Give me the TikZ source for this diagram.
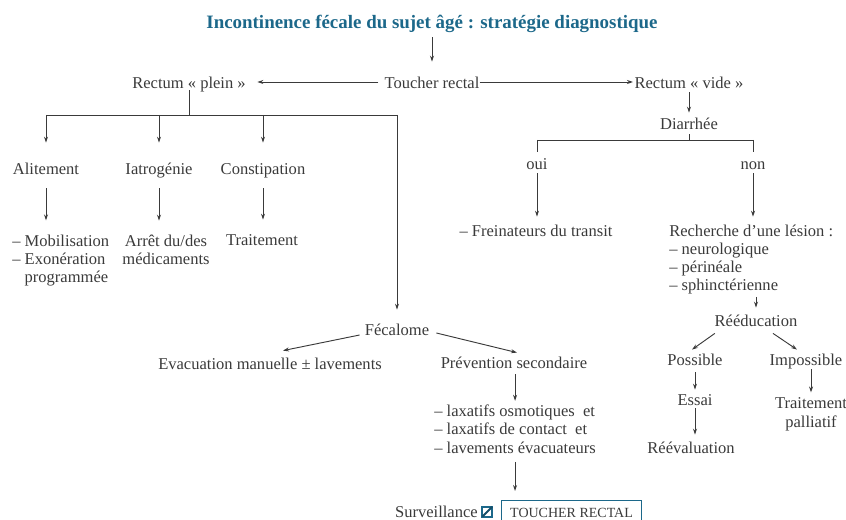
\documentclass[tikz,border=0pt]{standalone}
\usepackage{fontspec}
\setmainfont{Liberation Serif}
\usetikzlibrary{arrows.meta,calc}
\definecolor{titleblue}{RGB}{28,104,138}
\definecolor{ink}{RGB}{58,58,58}
\begin{document}
\begin{tikzpicture}[x=0.75pt,y=-0.75pt,
  font=\fontsize{12.4}{13.7}\selectfont,
  lbl/.style={inner sep=0pt, text height=10.25pt, text depth=0pt, text=ink},
  multi/.style={inner sep=0pt, text=ink, align=left},
  titlelbl/.style={inner sep=0pt, text height=11pt, text depth=1.5pt, text=titleblue,
    font=\bfseries\fontsize{14.2}{16}\selectfont},
  ln/.style={draw=ink, line width=0.7pt},
  arr/.style={ln, -{Stealth[length=4.5pt,width=3pt]}},
  chkbox/.style={draw=titleblue, line width=1pt, inner sep=0pt, minimum size=7.5pt},
  boxed/.style={draw=titleblue, line width=0.8pt, inner sep=0pt, text height=8pt, text depth=2pt,
    minimum width=105pt, minimum height=19.5pt, text=ink, font=\fontsize{10.5}{12}\selectfont}]
\useasboundingbox (0,0) rectangle (846,520);

% ---- nodes ----
\node[titlelbl] (title) at (432,22) {Incontinence fécale du sujet âgé : stratégie diagnostique};
\node[lbl] (tr) at (432,82) {Toucher rectal};
\node[lbl] (rp) at (189,82) {Rectum « plein »};
\node[lbl] (rv) at (689,82) {Rectum « vide »};

\node[lbl] (ali) at (46,168) {Alitement};
\node[lbl] (iat) at (159,168) {Iatrogénie};
\node[lbl] (con) at (263,168) {Constipation};
\node[multi, anchor=base west] (mob) at (12,283) {– Mobilisation\\– Exonération\\\phantom{– }programmée};
\node[multi, align=center, anchor=base] (med) at (166,265) {Arrêt du/des\\médicaments};
\node[lbl] (trt) at (262,239) {Traitement};

\node[lbl] (fec) at (397,329) {Fécalome};
\node[lbl] (eva) at (270,363) {Evacuation manuelle ± lavements};
\node[lbl] (prev) at (514,362) {Prévention secondaire};
\node[multi, anchor=base west] (lax) at (434,453) {– laxatifs osmotiques\ \ et\\– laxatifs de contact\ \ et\\– lavements évacuateurs};
\node[lbl, anchor=east] (surv) at (478,510.5) {Surveillance};
\node[chkbox] (chk) at (487,512) {};
\node[boxed, anchor=north west] (box) at (501,500) {TOUCHER RECTAL};

\node[lbl] (dia) at (689,123) {Diarrhée};
\node[lbl] (oui) at (537,163) {oui};
\node[lbl] (non) at (753,163) {non};
\node[lbl] (fr) at (536,230) {– Freinateurs du transit};
\node[multi, anchor=base west] (rl) at (669,291) {Recherche d’une lésion :\\– neurologique\\– périnéale\\– sphinctérienne};
\node[lbl] (ree) at (756,320) {Rééducation};
\node[lbl] (pos) at (695,359) {Possible};
\node[lbl] (imp) at (806,359) {Impossible};
\node[lbl] (ess) at (695,399) {Essai};
\node[lbl] (reev) at (691,447) {Réévaluation};
\node[multi, align=center, anchor=base] (tp) at (811,427) {Traitement\\palliatif};

% ---- connectors ----
\draw[arr, shorten <=5pt, shorten >=10pt] (title.south) -- (tr.north);
\draw[arr, shorten <=4.5pt, shorten >=8.5pt] (tr.west) -- (rp.east);
\draw[arr, shorten >=1pt] (tr.east) -- (rv.west);

\coordinate (rpbar) at (189,115);
\draw[ln, shorten <=1pt] (rp.south) -- (rp.south |- rpbar);
\draw[ln] (ali.north |- rpbar) -- (fec.north |- rpbar);
\draw[arr, shorten >=13.7pt] (ali.north |- rpbar) -- (ali.north);
\draw[arr, shorten >=13.7pt] (iat.north |- rpbar) -- (iat.north);
\draw[arr, shorten >=13.7pt] (con.north |- rpbar) -- (con.north);
\draw[arr, shorten >=9.2pt] (fec.north |- rpbar) -- (fec.north);

\draw[arr, shorten <=10pt, shorten >=10.8pt] (ali.south) -- (ali.south |- mob.north);
\draw[arr, shorten <=10pt, shorten >=10.8pt] (iat.south) -- (iat.south |- med.north);
\draw[arr, shorten <=10pt, shorten >=9.2pt] (con.south) -- (con.south |- trt.north);

\draw[arr] ([shift={(-5,6)}]fec.west) -- ([shift={(13,-5.3)}]eva.north);
\draw[arr] ([shift={(7,4)}]fec.east) -- ([shift={(3,-2.3)}]prev.north);
\draw[arr, shorten <=4pt, shorten >=2.8pt] (lax.north |- prev.south) -- (lax.north);
\draw[arr, shorten <=6.4pt, shorten >=6.75pt] (lax.south) -- (lax.south |- box.north);
\draw[titleblue!75!black, line width=1.4pt, shorten <=1pt, shorten >=0.5pt] (chk.south west) -- (chk.north east);

\draw[arr, shorten <=2.5pt, shorten >=2.5pt] (rv.south) -- (dia.north);
\coordinate (diabar) at (689,140);
\draw[ln, shorten <=3.2pt] (dia.south) -- (dia.south |- diabar);
\draw[ln] (oui.north |- diabar) -- (non.north |- diabar);
\draw[ln, shorten >=3.2pt] (oui.north |- diabar) -- (oui.north);
\draw[ln, shorten >=3.2pt] (non.north |- diabar) -- (non.north);
\draw[arr, shorten <=2.5pt, shorten >=4.7pt] (oui.south) -- (oui.south |- fr.north);
\draw[arr, shorten <=2.5pt, shorten >=5.8pt] (non.south) -- (non.south |- rl.north);
\draw[arr, shorten <=1.5pt, shorten >=4pt] (ree.north |- rl.south) -- (ree.north);
\draw[arr] ([shift={(0.4,6.3)}]ree.south west) -- ([shift={(-3,-2.3)}]pos.north);
\draw[arr] ([shift={(17,6.3)}]ree.south) -- ([shift={(-9,-2.3)}]imp.north);
\draw[arr, shorten <=4.7pt, shorten >=1.7pt] (pos.south) -- (ess.north);
\draw[arr, shorten <=1.7pt, shorten >=4pt] (ess.south) -- (ess.south |- reev.north);
\draw[arr, shorten <=2.5pt, shorten >=3.8pt] (tp.north |- imp.south) -- (tp.north);
\end{tikzpicture}
\end{document}
